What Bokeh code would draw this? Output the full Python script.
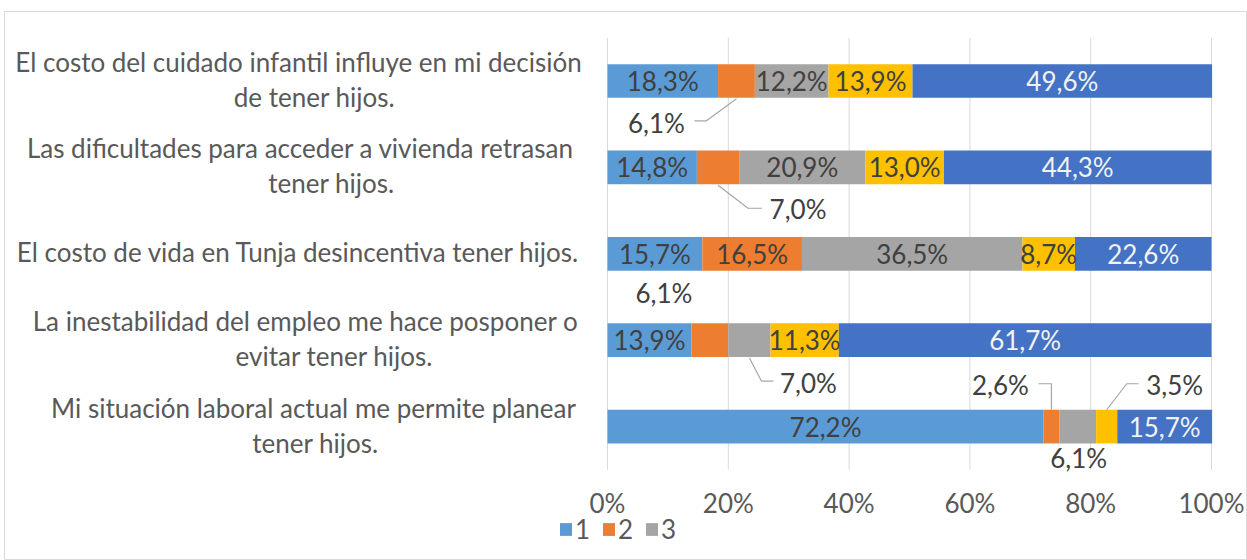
from bokeh.plotting import figure
from bokeh.models import ColumnDataSource, Label, Legend, LegendItem, FixedTicker, Range1d
from bokeh.core.properties import value
from bokeh.embed import file_html
from bokeh.resources import INLINE
import numpy as np

# ---------------- data ----------------
cat_lines = [
    ["El costo del cuidado infantil influye en mi decisión", "de tener hijos."],
    ["Las dificultades para acceder a vivienda retrasan", "tener hijos."],
    ["El costo de vida en Tunja desincentiva tener hijos."],
    ["La inestabilidad del empleo me hace posponer o", "evitar tener hijos."],
    ["Mi situación laboral actual me permite planear", "tener hijos."],
]
series_names = ["1", "2", "3", "4", "5"]
s1 = [18.3, 14.8, 15.7, 13.9, 72.2]
s2 = [6.1, 7.0, 16.5, 6.1, 2.6]
s3 = [12.2, 20.9, 36.5, 7.0, 6.1]
s4 = [13.9, 13.0, 8.7, 11.3, 3.5]
s5 = [49.6, 44.3, 22.6, 61.7, 15.7]
tick_values = [0, 20, 40, 60, 80, 100]
tick_labels = ["0%", "20%", "40%", "60%", "80%", "100%"]
legend_shown = ["1", "2", "3"]

# which segments carry their value label inside the bar
inside = [
    [True, True, True, True, True],
    [False, False, True, False, False],
    [True, True, True, False, False],
    [True, True, True, True, False],
    [True, True, True, True, True],
]

# ---------------- style / layout ----------------
colors = ["#5B9BD5", "#ED7D31", "#A5A5A5", "#FFC000", "#4472C4"]
label_colors = ["#404040", "#404040", "#404040", "#404040", "#F2F2F2"]
FONT = "Lato"
FS = "26px"
FS_CAT = "26px"
TXT = "#595959"
BAR_H = 0.39
W, H = 1247, 560
FL, FT = 4, 11            # frame left / top in px
ZERO_PX = 607             # px where 0% sits
PX_X = 6.04               # px per % unit
TOP_PX = 37.3             # px of the top of the category band
PX_Y = 86.4               # px per category unit

series = [s1, s2, s3, s4, s5]
n = len(cat_lines)
ypos = [n - 0.5 - i for i in range(n)]
vals = np.array(series)
rights = np.cumsum(vals, axis=0)
lefts = rights - vals

x0 = -(ZERO_PX - FL) / PX_X
x1 = x0 + (W - FL) / PX_X
y1 = n + (TOP_PX - FT) / PX_Y
y0 = y1 - (H - FT) / PX_Y

p = figure(width=W, height=H, output_backend="svg", toolbar_location=None,
           x_range=Range1d(x0, x1), y_range=Range1d(y0, y1),
           min_border_left=FL, min_border_right=0, min_border_top=FT, min_border_bottom=0)
p.outline_line_color = "#D9D9D9"
p.outline_line_width = 1
p.xgrid.visible = False
p.ygrid.visible = False
p.yaxis.visible = False

# vertical gridlines at the tick values
p.segment(x0=tick_values, y0=[0] * len(tick_values), x1=tick_values, y1=[n] * len(tick_values),
          line_color="#D9D9D9", line_width=1)

renderers = []
for k in range(5):
    src = ColumnDataSource(dict(y=ypos, left=lefts[k], right=rights[k]))
    r = p.hbar(y="y", left="left", right="right", height=BAR_H, source=src,
               fill_color=colors[k], line_color=None)
    renderers.append(r)

# inside value labels
for k in range(5):
    xs, ys, ts = [], [], []
    for i in range(n):
        if inside[k][i]:
            xs.append((lefts[k][i] + rights[k][i]) / 2)
            ys.append(ypos[i])
            ts.append(f"{series[k][i]:.1f}%".replace(".", ","))
    src = ColumnDataSource(dict(x=xs, y=ys, t=ts))
    p.text(x="x", y="y", text="t", source=src, text_align="center", text_baseline="middle",
           text_font=value(FONT), text_font_size=FS, text_color=label_colors[k])

# callout labels: (row, series, edge, leader path px offsets, label px offset)
callouts = [
    (0, 1, "bottom", [(0, 1), (-30, 23), (-42, 23)], (-80, 25)),
    (1, 1, "bottom", [(0, 1), (30, 24), (44, 24)], (80, 25)),
    (3, 1, "top", [], (-46, -30)),
    (3, 2, "bottom", [(0, 1), (12, 24), (24, 24)], (59, 26)),
    (4, 1, "top", [(0, 0), (0, -26), (-13, -26)], (-51, -25)),
    (4, 2, "bottom", [], (1, 15)),
    (4, 3, "top", [(0, 0), (20, -26), (32, -26)], (68, -25)),
]
for (i, k, edge, path, lab) in callouts:
    ax = (lefts[k][i] + rights[k][i]) / 2
    ay = ypos[i] - BAR_H / 2 if edge == "bottom" else ypos[i] + BAR_H / 2
    if path:
        p.line([ax + dx / PX_X for dx, dy in path], [ay - dy / PX_Y for dx, dy in path],
               line_color="#A6A6A6", line_width=1.2)
    p.add_layout(Label(x=ax + lab[0] / PX_X, y=ay - lab[1] / PX_Y,
                       text=f"{series[k][i]:.1f}%".replace(".", ","),
                       text_align="center", text_baseline="middle",
                       text_font=FONT, text_font_size=FS, text_color="#404040"))

# category labels (left side)
centers = [[298, 314], [300, 331], [298], [305, 334], [313, 315]]
for i, lines in enumerate(cat_lines):
    offs = [-2] if len(lines) == 1 else [-19, 16]
    for j, line in enumerate(lines):
        cx = (centers[i][j] - ZERO_PX) / PX_X
        p.add_layout(Label(x=cx, y=ypos[i] - offs[j] / PX_Y, text=line,
                           text_align="center", text_baseline="middle",
                           text_font=FONT, text_font_size=FS_CAT, text_color=TXT))

# x axis drawn at the bottom of the category band
p.xaxis.fixed_location = 0
p.xaxis.ticker = FixedTicker(ticks=tick_values)
p.xaxis.major_label_overrides = {v: t for v, t in zip(tick_values, tick_labels)}
p.xaxis.axis_line_color = None
p.xaxis.major_tick_line_color = None
p.xaxis.minor_tick_line_color = None
p.xaxis.major_label_standoff = 11
p.xaxis.major_label_text_font = FONT
p.xaxis.major_label_text_font_size = FS
p.xaxis.major_label_text_color = TXT

legend = Legend(items=[LegendItem(label=series_names[k], renderers=[renderers[k]])
                       for k in range(5) if series_names[k] in legend_shown],
                location=(554, 15), orientation="horizontal",
                glyph_width=15, glyph_height=16, label_standoff=2, spacing=6,
                padding=0, margin=0, border_line_color=None, background_fill_alpha=0,
                label_text_font=FONT, label_text_font_size=FS, label_text_color=TXT)
p.add_layout(legend)

open("out.html", "w").write(file_html(p, INLINE))
